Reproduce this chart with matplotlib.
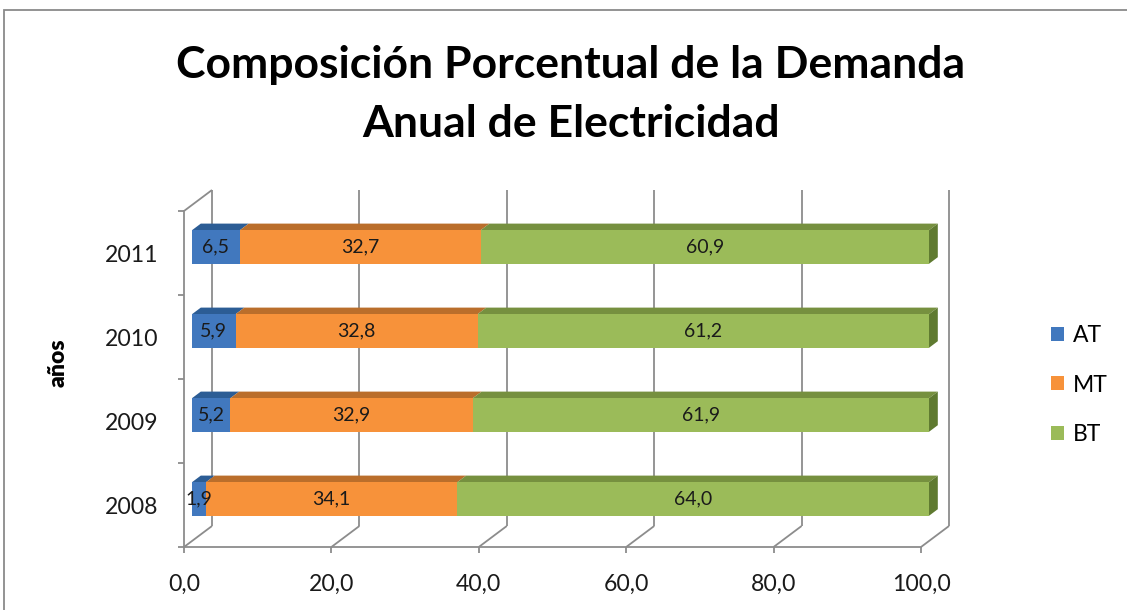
import numpy as np
import matplotlib
matplotlib.use("Agg")
import matplotlib.pyplot as plt
from matplotlib.patches import Polygon, Rectangle, Patch

# ---- data -------------------------------------------------------------
years = ["2008", "2009", "2010", "2011"]
series = ["AT", "MT", "BT"]
at_vals = [1.9, 5.2, 5.9, 6.5]
mt_vals = [34.1, 32.9, 32.8, 32.7]
bt_vals = [64.0, 61.9, 61.2, 60.9]
xticks = [0, 20, 40, 60, 80, 100]
xticklabels = ["0,0", "20,0", "40,0", "60,0", "80,0", "100,0"]
title_lines = ["Composición Porcentual de la Demanda", "Anual de Electricidad"]
ylabel = "años"

# ---- style ------------------------------------------------------------
front_cols = ["#4178BE", "#F7923A", "#9BBB59"]
top_cols = ["#2C5D95", "#BA6E2B", "#76903F"]
side_cols = ["#23497A", "#9A5A22", "#5F7A30"]
grid_col = "#8C8C8C"

plt.rcParams["font.family"] = ["Lato", "DejaVu Sans"]

FW, FH = 1127, 610
fig = plt.figure(figsize=(FW / 100, FH / 100), dpi=100)
fig.patch.set_facecolor("white")

# chart-area border (runs off the right and bottom edges)
fig.add_artist(Rectangle((4 / FW, -0.1), 1.2, 1 - 10 / FH + 0.1,
                         transform=fig.transFigure, fill=False,
                         edgecolor="#8A8A8A", lw=1.3))

# front plane of the plot area, in pixels
AX_L, AX_T, AX_W, AX_H = 184, 211, 737, 336
ax = fig.add_axes([AX_L / FW, 1 - (AX_T + AX_H) / FH, AX_W / FW, AX_H / FH])
ax.set_xlim(0, 100)
ax.set_ylim(-0.5, len(years) - 0.5)
ax.patch.set_visible(False)

# oblique depth of the 3-D box, in data units
DX = 28 / (AX_W / 100)
DY = 21 / (AX_H / len(years))
F1, F2 = 0.286, 0.60       # front / back of the bars inside the depth
BAR_H = 0.4
y0, y1 = -0.5, len(years) - 0.5

gkw = dict(color=grid_col, lw=1.3, clip_on=False, solid_capstyle="butt", zorder=1)
for v in xticks:
    ax.plot([v + DX, v + DX], [y0 + DY, y1 + DY], **gkw)   # back wall
    ax.plot([v, v + DX], [y0, y0 + DY], **gkw)             # floor
ax.plot([0, DX], [y1, y1 + DY], **gkw)                      # side wall top edge

# ---- stacked 3-D bars -------------------------------------------------
vals = np.array([at_vals, mt_vals, bt_vals], dtype=float)
shares = vals / vals.sum(axis=0) * 100
ypos = np.arange(len(years))
left = np.zeros(len(years))
for k in range(len(series)):
    w = shares[k]
    ax.barh(ypos + F1 * DY, w, left=left + F1 * DX, height=BAR_H,
            color=front_cols[k], zorder=3, clip_on=False, label=series[k])
    for i in range(len(years)):
        l, r = left[i], left[i] + w[i]
        yt = ypos[i] + BAR_H / 2
        yb = ypos[i] - BAR_H / 2
        top = [(l + F1 * DX, yt + F1 * DY), (l + F2 * DX, yt + F2 * DY),
               (r + F2 * DX, yt + F2 * DY), (r + F1 * DX, yt + F1 * DY)]
        ax.add_patch(Polygon(top, closed=True, facecolor=top_cols[k],
                             edgecolor="none", zorder=2, clip_on=False))
        if k == len(series) - 1:
            side = [(r + F1 * DX, yb + F1 * DY), (r + F2 * DX, yb + F2 * DY),
                    (r + F2 * DX, yt + F2 * DY), (r + F1 * DX, yt + F1 * DY)]
            ax.add_patch(Polygon(side, closed=True, facecolor=side_cols[k],
                                 edgecolor="none", zorder=2, clip_on=False))
        ax.text(l + w[i] / 2 + F1 * DX, ypos[i] + F1 * DY,
                f"{vals[k, i]:.1f}".replace(".", ","),
                ha="center", va="center", fontsize=14, color="#1a1a1a",
                zorder=5, clip_on=False)
    left += w

# ---- axes -------------------------------------------------------------
for s in ("top", "right"):
    ax.spines[s].set_visible(False)
for s in ("left", "bottom"):
    ax.spines[s].set_color(grid_col)
    ax.spines[s].set_linewidth(1.3)

ax.set_yticks(ypos, years)
ax.set_yticks(np.arange(y0, y1 + 0.01, 1), minor=True)
ax.tick_params(axis="y", which="major", length=0, pad=18.7,
               labelsize=16.6, labelcolor="#1a1a1a")
ax.tick_params(axis="y", which="minor", length=4.3, width=1.3, color=grid_col)
ax.set_xticks(xticks, xticklabels)
ax.tick_params(axis="x", which="major", length=4.3, width=1.3, color=grid_col,
               pad=15, labelsize=16.6, labelcolor="#1a1a1a")
ax.tick_params(axis="x", which="minor", length=0)

fig.text(58.5 / FW, 1 - 363 / FH, ylabel, rotation=90, ha="center", va="center",
         fontsize=16.5, fontweight="heavy", color="black")

# ---- title ------------------------------------------------------------
fig.text(571 / FW, 1 - 78 / FH, title_lines[0], ha="center", va="baseline",
         fontsize=32, fontweight="bold", color="black")
fig.text(571 / FW, 1 - 137 / FH, title_lines[1], ha="center", va="baseline",
         fontsize=32, fontweight="bold", color="black")

# ---- legend -----------------------------------------------------------
handles = [Patch(facecolor=c, edgecolor="none") for c in front_cols]
fig.legend(handles, series, loc="center left",
           bbox_to_anchor=(1051 / FW, 1 - 385 / FH), frameon=False,
           fontsize=16.5, handlelength=0.55, handleheight=0.55,
           handletextpad=0.4, labelspacing=1.25, borderpad=0,
           borderaxespad=0)

fig.savefig("out.png", dpi=100, facecolor="white")
